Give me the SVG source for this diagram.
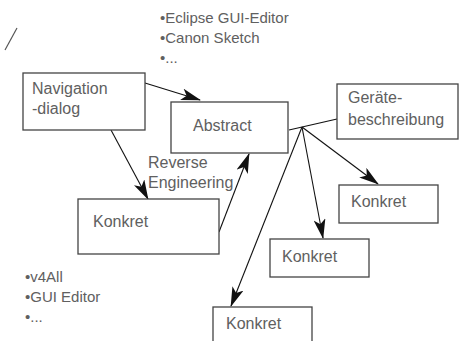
<svg xmlns="http://www.w3.org/2000/svg" width="460" height="341" viewBox="0 0 460 341">
  <style>
    .box { fill: #fff; stroke: #444; stroke-width: 1.3; }
    .lbl { font-family: "Liberation Sans", Arial, sans-serif; font-size: 16px; fill: #606060; }
    .note { font-family: "Liberation Sans", Arial, sans-serif; font-size: 15px; fill: #606060; }
    .edge { fill: none; stroke: #111; stroke-width: 1.1; }
  </style>
  <defs>
    <marker id="arrow" viewBox="0 0 20 12" refX="19" refY="6" markerWidth="20" markerHeight="12" markerUnits="userSpaceOnUse" orient="auto">
      <path d="M0,0 L20,6 L0,12 L5,6 Z" fill="#111"/>
    </marker>
  </defs>
  <rect width="460" height="341" fill="#fff"/>

  <!-- stray stroke -->
  <line x1="5" y1="50" x2="17" y2="28" stroke="#555" stroke-width="1.2"/>

  <!-- tool lists -->
  <g id="tools-top">
    <text class="note" x="160" y="23">•Eclipse GUI-Editor</text>
    <text class="note" x="160" y="43">•Canon Sketch</text>
    <text class="note" x="160" y="63">•...</text>
  </g>
  <g id="tools-bottom">
    <text class="note" x="25" y="282">•v4All</text>
    <text class="note" x="25" y="302">•GUI Editor</text>
    <text class="note" x="25" y="322">•...</text>
  </g>

  <!-- connectors -->
  <g id="connectors">
    <line class="edge" x1="145" y1="83" x2="200" y2="100" marker-end="url(#arrow)"/>
    <line class="edge" x1="111" y1="130" x2="148" y2="199" marker-end="url(#arrow)"/>
    <line class="edge" x1="219" y1="232" x2="249" y2="154" marker-end="url(#arrow)"/>
    <line class="edge" x1="289" y1="130" x2="337" y2="119"/>
    <line class="edge" x1="302" y1="127" x2="378" y2="184" marker-end="url(#arrow)"/>
    <line class="edge" x1="302" y1="127" x2="323" y2="238" marker-end="url(#arrow)"/>
    <line class="edge" x1="302" y1="127" x2="231" y2="306" marker-end="url(#arrow)"/>
    <text class="lbl" x="148" y="168">Reverse</text>
    <text class="lbl" x="148" y="188">Engineering</text>
  </g>

  <!-- nodes -->
  <g id="navigation">
    <rect class="box" x="23" y="73" width="122" height="57"/>
    <text class="lbl" x="32" y="94">Navigation</text>
    <text class="lbl" x="32" y="114">-dialog</text>
  </g>
  <g id="abstract">
    <rect class="box" x="171" y="102" width="117" height="51"/>
    <text class="lbl" x="193" y="131">Abstract</text>
  </g>
  <g id="geraetebeschreibung">
    <rect class="box" x="337" y="84" width="121" height="55"/>
    <text class="lbl" x="348" y="103">Geräte-</text>
    <text class="lbl" x="348" y="125">beschreibung</text>
  </g>
  <g id="konkret-source">
    <rect class="box" x="78" y="199" width="141" height="55"/>
    <text class="lbl" x="93" y="227">Konkret</text>
  </g>
  <g id="konkret-right">
    <rect class="box" x="339" y="185" width="99" height="38"/>
    <text class="lbl" x="351" y="207">Konkret</text>
  </g>
  <g id="konkret-middle">
    <rect class="box" x="270" y="239" width="99" height="38"/>
    <text class="lbl" x="282" y="262">Konkret</text>
  </g>
  <g id="konkret-bottom">
    <rect class="box" x="213" y="307" width="99" height="45"/>
    <text class="lbl" x="226" y="329">Konkret</text>
  </g>
</svg>
